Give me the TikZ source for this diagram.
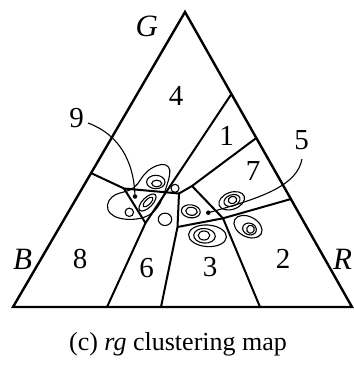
\documentclass[tikz,border=0pt]{standalone}
\usepackage{fontspec}
\setmainfont{Liberation Serif}
\usetikzlibrary{calc}
\begin{document}
\begin{tikzpicture}[x=1pt,y=-1pt,
  rim/.style={line width=2.4pt, line join=miter},
  part/.style={line width=2pt, line join=round},
  fine/.style={line width=1.1pt},
  lab/.style={font=\fontsize{29}{33}\selectfont, inner sep=0pt},
  caplab/.style={font=\fontsize{26}{30}\selectfont, inner sep=0pt},
  axlab/.style={font=\fontsize{31}{35}\selectfont\itshape, inner sep=0pt}]
\useasboundingbox (0,0) rectangle (353,369);
% triangle
\coordinate (G) at (185,12);
\coordinate (B) at (13,307);
\coordinate (R) at (352,307);
\draw[rim] (G) -- (B) -- (R) -- cycle;
% boundary points
\coordinate (eL) at ($(G)!0.546!(B)$);
\coordinate (eR1) at ($(G)!0.278!(R)$);
\coordinate (eR2) at ($(G)!0.427!(R)$);
\coordinate (eR3) at ($(G)!0.634!(R)$);
\coordinate (b1) at (107,307);
\coordinate (b2) at (161,307);
\coordinate (b3) at (260,307);
\coordinate (V1) at (124,188.5);
\coordinate (V2) at (179,193.5);
\coordinate (V3) at (145.5,223);
\coordinate (V4) at (192,186);
\coordinate (V5) at (177.5,227);
\coordinate (V6) at (223,218.3);
% partition
\draw[part] (eL) -- (V1) -- (V2);
\draw[part] (V1) -- (V3);
\draw[part] (eR1) -- (V3) -- (b1);
\draw[part] (V2) -- (V4) -- (eR2);
\draw[part] (V2) -- (V5) -- (b2);
\draw[part] (V4) -- (V6) -- (eR3);
\draw[part] (V5) -- (V6) -- (b3);
% left cluster
\draw[fine] plot[smooth cycle, tension=0.7] coordinates {
  (130,190) (120,193) (112,197) (107.5,205) (110.5,213.5)
  (121,218.5) (136.5,219) (149,215) (157,208) (162,199)
  (166,188) (169.5,175) (168.5,167) (161.5,164.5) (151.5,168.3)
  (143.5,175.5) (137.5,184)};
\draw[fine] (155.8,182) ellipse [x radius=9.2pt, y radius=6.7pt];
\draw[fine] (156.7,183.5) ellipse [x radius=5pt, y radius=3.3pt];
\draw[fine, rotate around={45:(147.5,202.5)}] (147.5,202.5) ellipse [x radius=11pt, y radius=5pt];
\draw[fine, rotate around={45:(148,202)}] (148,202) ellipse [x radius=6.5pt, y radius=2.6pt];
\draw[fine] (175,188.3) circle (4pt);
\draw[fine] (129.3,212.3) circle (4.2pt);
\draw[fine] (165,219.3) ellipse [x radius=6.7pt, y radius=6.2pt];
% right cluster
\draw[fine, rotate around={-8:(190.8,211.3)}] (190.8,211.3) ellipse [x radius=9.5pt, y radius=6.5pt];
\draw[fine, rotate around={-8:(191.5,211.3)}] (191.5,211.3) ellipse [x radius=5.8pt, y radius=4pt];
\draw[fine, rotate around={20:(231.7,200.8)}] (231.7,200.8) ellipse [x radius=13.3pt, y radius=8.5pt];
\draw[fine, rotate around={20:(232,200.5)}] (232,200.5) ellipse [x radius=8.3pt, y radius=5.6pt];
\draw[fine, rotate around={20:(232.5,200)}] (232.5,200) ellipse [x radius=4.3pt, y radius=3.6pt];
\draw[fine, rotate around={-4:(207.5,235.8)}] (207.5,235.8) ellipse [x radius=19pt, y radius=10.8pt];
\draw[fine, rotate around={-4:(204.5,235.8)}] (204.5,235.8) ellipse [x radius=10.8pt, y radius=7.3pt];
\draw[fine] (204,235.5) ellipse [x radius=5.8pt, y radius=4.5pt];
\draw[fine, rotate around={-28:(248,226.7)}] (248,226.7) ellipse [x radius=15pt, y radius=10pt];
\draw[fine, rotate around={-20:(249.5,229)}] (249.5,229) ellipse [x radius=7pt, y radius=5.8pt];
\draw[fine, rotate around={-20:(250.5,229.3)}] (250.5,229.3) ellipse [x radius=3.8pt, y radius=4pt];
% labels
\node[axlab] (lG) at (146.7,26) {G};
\node[axlab] (lB) at (22.5,259.5) {B};
\node[axlab] (lR) at (342.5,259.5) {R};
\node[lab] (n4) at (176,95.5) {4};
\node[lab] (n1) at (226.7,136) {1};
\node[lab] (n7) at (253,171) {7};
\node[lab] (n5) at (301.7,140) {5};
\node[lab] (n9) at (76.7,118) {9};
\node[lab] (n8) at (80,258.5) {8};
\node[lab] (n6) at (146.7,268) {6};
\node[lab] (n3) at (210,267.5) {3};
\node[lab] (n2) at (283,259) {2};
% pointers
\node[circle, fill, inner sep=0pt, minimum size=4.5pt] (d9) at (135,196.5) {};
\node[circle, fill, inner sep=0pt, minimum size=4.5pt] (d5) at (208.3,212.7) {};
\coordinate (p9) at (88,123);
\coordinate (p5) at (302,159);
\draw[fine] (p9) .. controls (118,134) and (134,160) .. (d9.center);
\draw[fine] (p5) .. controls (297,185) and (265,197) .. (d5.center);
% caption
\node[caplab, anchor=base] (cap) at (178,350) {(c) \textit{rg} clustering map};
\end{tikzpicture}
\end{document}
